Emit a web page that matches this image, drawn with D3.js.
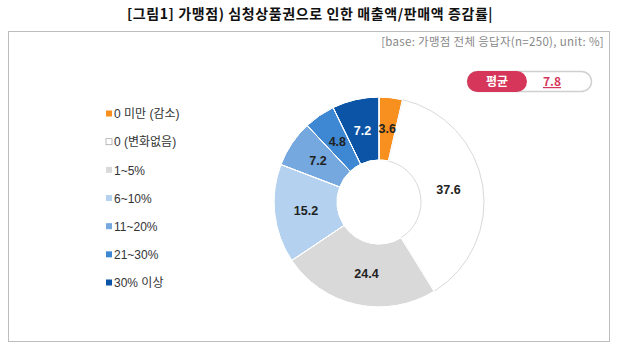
<!DOCTYPE html>
<html><head><meta charset="utf-8">
<script src="https://cdn.jsdelivr.net/npm/d3@7"></script>
<style>
body{margin:0;background:#fff;}
svg{display:block;font-family:"Noto Sans CJK KR","Liberation Sans",Arial,sans-serif;}
</style></head>
<body><svg id="c" width="620" height="355"></svg>
<script>
const categories = ["0 미만 (감소)", "0 (변화없음)", "1~5%", "6~10%", "11~20%", "21~30%", "30% 이상"];
const values = [3.6, 37.6, 24.4, 15.2, 7.2, 4.8, 7.2];
const colors = ["#F7901E", "#FFFFFF", "#D9D9D9", "#B4D2EF", "#74A8DF", "#3E87D2", "#0B54A6"];
const labelColors = ["#222", "#222", "#222", "#222", "#222", "#222", "#FFFFFF"];
const title = "[그림1] 가맹점) 심청상품권으로 인한 매출액/판매액 증감률|";
const baseNote = "[base: 가맹점 전체 응답자(n=250), unit: %]";
const avgLabel = "평균";
const avgValue = "7.8";

const svg = d3.select("#c");

svg.append("text").attr("x", 310).attr("y", 19).attr("text-anchor", "middle")
  .attr("font-size", 14).attr("letter-spacing", 0.6).attr("font-weight", "bold").attr("fill", "#111").text(title);

svg.append("rect").attr("x", 8.5).attr("y", 31.5).attr("width", 601).attr("height", 310)
  .attr("fill", "#fff").attr("stroke", "#BDBDBD").attr("stroke-width", 1);

svg.append("text").attr("x", 604).attr("y", 46).attr("text-anchor", "end")
  .attr("font-size", 11.5).attr("letter-spacing", 0.3).attr("fill", "#888").text(baseNote);

// pill
const pill = svg.append("g");
pill.append("rect").attr("x", 467.5).attr("y", 71.5).attr("width", 124).attr("height", 20).attr("rx", 10)
  .attr("fill", "#fff").attr("stroke", "#D0D0D0").attr("stroke-width", 1.5);
pill.append("rect").attr("x", 467).attr("y", 71).attr("width", 60).attr("height", 21).attr("rx", 10.5)
  .attr("fill", "#D6365A");
pill.append("text").attr("x", 497).attr("y", 86).attr("text-anchor", "middle")
  .attr("font-size", 12).attr("font-weight", "bold").attr("fill", "#fff").text(avgLabel);
pill.append("text").attr("x", 552).attr("y", 86).attr("text-anchor", "middle")
  .attr("font-size", 12).attr("font-weight", "bold").attr("fill", "#D6365A")
  .attr("text-decoration", "underline").text(avgValue);

// donut
const cx = 379, cy = 202, R = 105, r = 42;
const pie = d3.pie().sort(null).value(d => d)(values);
const arc = d3.arc().innerRadius(r).outerRadius(R);
const g = svg.append("g").attr("transform", `translate(${cx},${cy})`);
g.selectAll("path").data(pie).enter().append("path")
  .attr("d", arc)
  .attr("fill", (d, i) => colors[i])
  .attr("stroke", (d, i) => i === 1 ? "#D9D9D9" : "#fff")
  .attr("stroke-width", 1);
g.selectAll("path.sep").data(pie.filter((d,i)=>i!==1)).enter().append("path")
  .attr("d", arc).attr("fill", "none").attr("stroke", "#fff").attr("stroke-width", 1);

const labelArc = d3.arc().innerRadius((R + r) / 2).outerRadius((R + r) / 2);
const labelOffsets = [[0, 0], [-3, 0], [3, 0], [0, 0], [0, 0], [0, 0], [0, 0]];
g.selectAll("text.lbl").data(pie).enter().append("text")
  .attr("class", "lbl")
  .attr("x", (d, i) => labelArc.centroid(d)[0] + labelOffsets[i][0])
  .attr("y", (d, i) => labelArc.centroid(d)[1] + labelOffsets[i][1])
  .attr("dy", "0.35em")
  .attr("text-anchor", "middle")
  .attr("font-family", "Liberation Sans, Arial, sans-serif")
  .attr("font-size", 12.5).attr("font-weight", "bold")
  .attr("fill", (d, i) => labelColors[i])
  .text(d => d.data.toFixed(1));

// legend
const ly = d3.scalePoint().domain(categories).range([114, 283]);
const lg = svg.append("g");
categories.forEach((c, i) => {
  lg.append("rect").attr("x", 106).attr("y", ly(c) - 3.5).attr("width", 6).attr("height", 6)
    .attr("fill", colors[i]).attr("stroke", i === 1 ? "#AAA" : "none").attr("stroke-width", 0.8);
  lg.append("text").attr("x", 114).attr("y", ly(c)).attr("dy", "0.35em")
    .attr("font-family", "Liberation Sans, Noto Sans CJK KR, sans-serif")
    .attr("font-size", 12).attr("fill", "#333").text(c);
});
</script></body></html>
